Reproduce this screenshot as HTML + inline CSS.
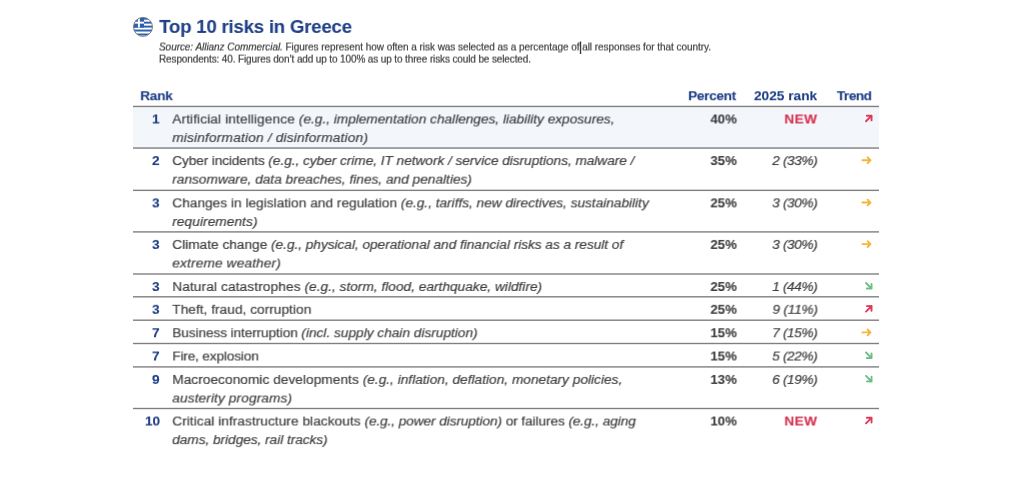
<!DOCTYPE html><html><head><meta charset="utf-8"><title>Top 10 risks in Greece</title><style>
html,body{margin:0;padding:0;background:#fff;overflow:hidden;}
body{width:1024px;height:500px;position:relative;overflow:hidden;font-family:"Liberation Sans",sans-serif;}
.t{position:absolute;white-space:nowrap;line-height:20px;}
</style></head><body>
<svg style="position:absolute;left:0;top:0" width="1024" height="500" viewBox="0 0 1024 500">
<rect x="133" y="106.45" width="746" height="41.60" fill="#f3f7fc"/>
<rect x="133" y="105.75" width="746" height="1.4" fill="#808080"/>
<rect x="133" y="147.35" width="746" height="1.4" fill="#808080"/>
<rect x="133" y="189.65" width="746" height="1.4" fill="#808080"/>
<rect x="133" y="231.20" width="746" height="1.4" fill="#808080"/>
<rect x="133" y="273.30" width="746" height="1.4" fill="#808080"/>
<rect x="133" y="296.10" width="746" height="1.4" fill="#808080"/>
<rect x="133" y="319.50" width="746" height="1.4" fill="#808080"/>
<rect x="133" y="342.80" width="746" height="1.4" fill="#808080"/>
<rect x="133" y="366.20" width="746" height="1.4" fill="#808080"/>
<rect x="133" y="407.80" width="746" height="1.4" fill="#808080"/>
<g transform="translate(868.90 118.35) rotate(-45)" fill="none" stroke="#df3b5a" stroke-width="1.9" stroke-linecap="round" stroke-linejoin="round"><path d="M-4.1 0H3.5M0.4 -3.3L3.8 0L0.4 3.3"/></g>
<g transform="translate(867.00 160.25) rotate(0)" fill="none" stroke="#f3b63a" stroke-width="1.9" stroke-linecap="round" stroke-linejoin="round"><path d="M-4.6 0H3.2M0.6 -2.9L3.5 0L0.6 2.9"/></g>
<g transform="translate(867.00 202.55) rotate(0)" fill="none" stroke="#f3b63a" stroke-width="1.9" stroke-linecap="round" stroke-linejoin="round"><path d="M-4.6 0H3.2M0.6 -2.9L3.5 0L0.6 2.9"/></g>
<g transform="translate(867.00 244.10) rotate(0)" fill="none" stroke="#f3b63a" stroke-width="1.9" stroke-linecap="round" stroke-linejoin="round"><path d="M-4.6 0H3.2M0.6 -2.9L3.5 0L0.6 2.9"/></g>
<g transform="translate(868.90 285.90) rotate(45)" fill="none" stroke="#6dbf86" stroke-width="1.9" stroke-linecap="round" stroke-linejoin="round"><path d="M-4.1 0H3.5M0.4 -3.3L3.8 0L0.4 3.3"/></g>
<g transform="translate(868.90 308.70) rotate(-45)" fill="none" stroke="#df3b5a" stroke-width="1.9" stroke-linecap="round" stroke-linejoin="round"><path d="M-4.1 0H3.5M0.4 -3.3L3.8 0L0.4 3.3"/></g>
<g transform="translate(867.00 332.40) rotate(0)" fill="none" stroke="#f3b63a" stroke-width="1.9" stroke-linecap="round" stroke-linejoin="round"><path d="M-4.6 0H3.2M0.6 -2.9L3.5 0L0.6 2.9"/></g>
<g transform="translate(868.90 355.40) rotate(45)" fill="none" stroke="#6dbf86" stroke-width="1.9" stroke-linecap="round" stroke-linejoin="round"><path d="M-4.1 0H3.5M0.4 -3.3L3.8 0L0.4 3.3"/></g>
<g transform="translate(868.90 378.80) rotate(45)" fill="none" stroke="#6dbf86" stroke-width="1.9" stroke-linecap="round" stroke-linejoin="round"><path d="M-4.1 0H3.5M0.4 -3.3L3.8 0L0.4 3.3"/></g>
<g transform="translate(868.90 420.40) rotate(-45)" fill="none" stroke="#df3b5a" stroke-width="1.9" stroke-linecap="round" stroke-linejoin="round"><path d="M-4.1 0H3.5M0.4 -3.3L3.8 0L0.4 3.3"/></g>
<rect x="579.85" y="41.5" width="1.35" height="12.5" fill="#33363f"/>
<g transform="translate(132.8 16.7)">
<defs><clipPath id="c"><circle cx="10.2" cy="10.2" r="9.5"/></clipPath></defs>
<g clip-path="url(#c)">
<rect width="20.4" height="20.4" fill="#fff"/>
<g fill="#2e5fae">
<rect x="0" y="1.02" width="20.4" height="1.95"/><rect x="0" y="4.97" width="20.4" height="1.95"/><rect x="0" y="8.92" width="20.4" height="1.95"/><rect x="0" y="12.87" width="20.4" height="1.95"/><rect x="0" y="16.82" width="20.4" height="1.95"/>
<rect x="0" y="1.02" width="11.2" height="9.85"/>
</g>
<rect x="5.15" y="1.02" width="1.9" height="9.85" fill="#fff"/><rect x="0" y="4.97" width="11.2" height="1.95" fill="#fff"/>
</g>
<circle cx="10.2" cy="10.2" r="9.5" fill="none" stroke="#70737c" stroke-width="0.9"/>
</g>
</svg>
<div class="t" style="top:16px;font-size:18.6px;font-weight:700;color:#1f3f86;-webkit-text-stroke:0.1px;letter-spacing:-0.203px;left:159px;transform:translate(0.20px,0.90px) rotateX(0.5deg);">Top 10 risks in Greece</div>
<div class="t" style="top:37px;font-size:10px;font-weight:400;color:#3e3e3e;-webkit-text-stroke:0.2px;letter-spacing:-0.053px;left:159px;transform:translate(0.00px,0.50px) rotateX(0.5deg);"><i>Source: Allianz Commercial.</i> Figures represent how often a risk was selected as a percentage of all responses for that country.</div>
<div class="t" style="top:49px;font-size:10px;font-weight:400;color:#3e3e3e;-webkit-text-stroke:0.2px;letter-spacing:-0.125px;left:159px;transform:translate(0.00px,0.60px) rotateX(0.5deg);">Respondents: 40. Figures don’t add up to 100% as up to three risks could be selected.</div>
<div class="t" style="top:86px;font-size:13.7px;font-weight:700;color:#1f3f86;-webkit-text-stroke:0.1px;letter-spacing:-0.261px;left:140px;transform:translate(0.20px,0.20px) rotateX(0.5deg);">Rank</div>
<div class="t" style="top:86px;font-size:13.7px;font-weight:700;color:#1f3f86;-webkit-text-stroke:0.1px;letter-spacing:-0.353px;right:288px;transform:translate(0.15px,0.20px) rotateX(0.5deg);">Percent</div>
<div class="t" style="top:86px;font-size:13.7px;font-weight:700;color:#1f3f86;-webkit-text-stroke:0.1px;letter-spacing:-0.009px;right:208px;transform:translate(0.99px,0.20px) rotateX(0.5deg);">2025 rank</div>
<div class="t" style="top:86px;font-size:13.7px;font-weight:700;color:#1f3f86;-webkit-text-stroke:0.1px;letter-spacing:-0.520px;right:153px;transform:translate(0.78px,0.20px) rotateX(0.5deg);">Trend</div>
<div class="t" style="top:109px;font-size:13.7px;font-weight:700;color:#1f3f86;-webkit-text-stroke:0.1px;right:864px;transform:translate(0.00px,0.45px) rotateX(0.5deg);">1</div>
<div class="t" style="top:109px;font-size:13.7px;font-weight:400;color:#404040;-webkit-text-stroke:0.2px;left:172px;transform:translate(0.30px,0.45px) rotateX(0.5deg);"><span style="letter-spacing:0.108px">Artificial intelligence </span><span style="letter-spacing:-0.017px"><i>(e.g., implementation challenges, liability exposures,</i></span></div>
<div class="t" style="top:128px;font-size:13.7px;font-weight:400;color:#404040;-webkit-text-stroke:0.2px;letter-spacing:0.178px;left:172px;transform:translate(0.30px,0.05px) rotateX(0.5deg);"><i>misinformation / disinformation)</i></div>
<div class="t" style="top:109px;font-size:13.2px;font-weight:700;color:#3c3c3c;-webkit-text-stroke:0.1px;right:288px;transform:translate(0.40px,0.45px) rotateX(0.5deg);">40%</div>
<div class="t" style="top:109px;font-size:13.7px;font-weight:700;color:#d6314f;-webkit-text-stroke:0.1px;letter-spacing:0.331px;right:207px;transform:translate(0.33px,0.45px) rotateX(0.5deg);">NEW</div>
<div class="t" style="top:151px;font-size:13.7px;font-weight:700;color:#1f3f86;-webkit-text-stroke:0.1px;right:864px;transform:translate(0.00px,0.05px) rotateX(0.5deg);">2</div>
<div class="t" style="top:151px;font-size:13.7px;font-weight:400;color:#404040;-webkit-text-stroke:0.2px;left:172px;transform:translate(0.30px,0.05px) rotateX(0.5deg);"><span style="letter-spacing:-0.128px">Cyber incidents </span><span style="letter-spacing:-0.046px"><i>(e.g., cyber crime, IT network / service disruptions, malware /</i></span></div>
<div class="t" style="top:169px;font-size:13.7px;font-weight:400;color:#404040;-webkit-text-stroke:0.2px;letter-spacing:-0.002px;left:172px;transform:translate(0.30px,0.65px) rotateX(0.5deg);"><i>ransomware, data breaches, fines, and penalties)</i></div>
<div class="t" style="top:151px;font-size:13.2px;font-weight:700;color:#3c3c3c;-webkit-text-stroke:0.1px;right:288px;transform:translate(0.40px,0.05px) rotateX(0.5deg);">35%</div>
<div class="t" style="top:151px;font-size:13.7px;font-weight:400;color:#404040;-webkit-text-stroke:0.2px;letter-spacing:-0.390px;right:207px;transform:translate(0.21px,0.05px) rotateX(0.5deg);"><i>2 (33%)</i></div>
<div class="t" style="top:193px;font-size:13.7px;font-weight:700;color:#1f3f86;-webkit-text-stroke:0.1px;right:864px;transform:translate(0.00px,0.35px) rotateX(0.5deg);">3</div>
<div class="t" style="top:193px;font-size:13.7px;font-weight:400;color:#404040;-webkit-text-stroke:0.2px;left:172px;transform:translate(0.30px,0.35px) rotateX(0.5deg);"><span style="letter-spacing:0.008px">Changes in legislation and regulation </span><span style="letter-spacing:-0.019px"><i>(e.g., tariffs, new directives, sustainability</i></span></div>
<div class="t" style="top:211px;font-size:13.7px;font-weight:400;color:#404040;-webkit-text-stroke:0.2px;letter-spacing:0.064px;left:172px;transform:translate(0.30px,0.95px) rotateX(0.5deg);"><i>requirements)</i></div>
<div class="t" style="top:193px;font-size:13.2px;font-weight:700;color:#3c3c3c;-webkit-text-stroke:0.1px;right:288px;transform:translate(0.40px,0.35px) rotateX(0.5deg);">25%</div>
<div class="t" style="top:193px;font-size:13.7px;font-weight:400;color:#404040;-webkit-text-stroke:0.2px;letter-spacing:-0.390px;right:207px;transform:translate(0.21px,0.35px) rotateX(0.5deg);"><i>3 (30%)</i></div>
<div class="t" style="top:234px;font-size:13.7px;font-weight:700;color:#1f3f86;-webkit-text-stroke:0.1px;right:864px;transform:translate(0.00px,0.90px) rotateX(0.5deg);">3</div>
<div class="t" style="top:234px;font-size:13.7px;font-weight:400;color:#404040;-webkit-text-stroke:0.2px;left:172px;transform:translate(0.30px,0.90px) rotateX(0.5deg);"><span style="letter-spacing:-0.008px">Climate change </span><span style="letter-spacing:-0.038px"><i>(e.g., physical, operational and financial risks as a result of</i></span></div>
<div class="t" style="top:253px;font-size:13.7px;font-weight:400;color:#404040;-webkit-text-stroke:0.2px;letter-spacing:0.140px;left:172px;transform:translate(0.30px,0.50px) rotateX(0.5deg);"><i>extreme weather)</i></div>
<div class="t" style="top:234px;font-size:13.2px;font-weight:700;color:#3c3c3c;-webkit-text-stroke:0.1px;right:288px;transform:translate(0.40px,0.90px) rotateX(0.5deg);">25%</div>
<div class="t" style="top:234px;font-size:13.7px;font-weight:400;color:#404040;-webkit-text-stroke:0.2px;letter-spacing:-0.390px;right:207px;transform:translate(0.21px,0.90px) rotateX(0.5deg);"><i>3 (30%)</i></div>
<div class="t" style="top:277px;font-size:13.7px;font-weight:700;color:#1f3f86;-webkit-text-stroke:0.1px;right:864px;transform:translate(0.00px,0.00px) rotateX(0.5deg);">3</div>
<div class="t" style="top:277px;font-size:13.7px;font-weight:400;color:#404040;-webkit-text-stroke:0.2px;left:172px;transform:translate(0.30px,0.00px) rotateX(0.5deg);"><span style="letter-spacing:0.104px">Natural catastrophes </span><span style="letter-spacing:0.006px"><i>(e.g., storm, flood, earthquake, wildfire)</i></span></div>
<div class="t" style="top:277px;font-size:13.2px;font-weight:700;color:#3c3c3c;-webkit-text-stroke:0.1px;right:288px;transform:translate(0.40px,0.00px) rotateX(0.5deg);">25%</div>
<div class="t" style="top:277px;font-size:13.7px;font-weight:400;color:#404040;-webkit-text-stroke:0.2px;letter-spacing:-0.390px;right:207px;transform:translate(0.21px,0.00px) rotateX(0.5deg);"><i>1 (44%)</i></div>
<div class="t" style="top:299px;font-size:13.7px;font-weight:700;color:#1f3f86;-webkit-text-stroke:0.1px;right:864px;transform:translate(0.00px,0.80px) rotateX(0.5deg);">3</div>
<div class="t" style="top:299px;font-size:13.7px;font-weight:400;color:#404040;-webkit-text-stroke:0.2px;letter-spacing:0.023px;left:172px;transform:translate(0.30px,0.80px) rotateX(0.5deg);">Theft, fraud, corruption</div>
<div class="t" style="top:299px;font-size:13.2px;font-weight:700;color:#3c3c3c;-webkit-text-stroke:0.1px;right:288px;transform:translate(0.40px,0.80px) rotateX(0.5deg);">25%</div>
<div class="t" style="top:299px;font-size:13.7px;font-weight:400;color:#404040;-webkit-text-stroke:0.2px;letter-spacing:-0.220px;right:207px;transform:translate(0.38px,0.80px) rotateX(0.5deg);"><i>9 (11%)</i></div>
<div class="t" style="top:323px;font-size:13.7px;font-weight:700;color:#1f3f86;-webkit-text-stroke:0.1px;right:864px;transform:translate(0.00px,0.20px) rotateX(0.5deg);">7</div>
<div class="t" style="top:323px;font-size:13.7px;font-weight:400;color:#404040;-webkit-text-stroke:0.2px;left:172px;transform:translate(0.30px,0.20px) rotateX(0.5deg);"><span style="letter-spacing:-0.115px">Business interruption </span><span style="letter-spacing:-0.007px"><i>(incl. supply chain disruption)</i></span></div>
<div class="t" style="top:323px;font-size:13.2px;font-weight:700;color:#3c3c3c;-webkit-text-stroke:0.1px;right:288px;transform:translate(0.40px,0.20px) rotateX(0.5deg);">15%</div>
<div class="t" style="top:323px;font-size:13.7px;font-weight:400;color:#404040;-webkit-text-stroke:0.2px;letter-spacing:-0.390px;right:207px;transform:translate(0.21px,0.20px) rotateX(0.5deg);"><i>7 (15%)</i></div>
<div class="t" style="top:346px;font-size:13.7px;font-weight:700;color:#1f3f86;-webkit-text-stroke:0.1px;right:864px;transform:translate(0.00px,0.50px) rotateX(0.5deg);">7</div>
<div class="t" style="top:346px;font-size:13.7px;font-weight:400;color:#404040;-webkit-text-stroke:0.2px;letter-spacing:-0.180px;left:172px;transform:translate(0.30px,0.50px) rotateX(0.5deg);">Fire, explosion</div>
<div class="t" style="top:346px;font-size:13.2px;font-weight:700;color:#3c3c3c;-webkit-text-stroke:0.1px;right:288px;transform:translate(0.40px,0.50px) rotateX(0.5deg);">15%</div>
<div class="t" style="top:346px;font-size:13.7px;font-weight:400;color:#404040;-webkit-text-stroke:0.2px;letter-spacing:-0.390px;right:207px;transform:translate(0.21px,0.50px) rotateX(0.5deg);"><i>5 (22%)</i></div>
<div class="t" style="top:369px;font-size:13.7px;font-weight:700;color:#1f3f86;-webkit-text-stroke:0.1px;right:864px;transform:translate(0.00px,0.90px) rotateX(0.5deg);">9</div>
<div class="t" style="top:369px;font-size:13.7px;font-weight:400;color:#404040;-webkit-text-stroke:0.2px;left:172px;transform:translate(0.30px,0.90px) rotateX(0.5deg);"><span style="letter-spacing:0.036px">Macroeconomic developments </span><span style="letter-spacing:0.003px"><i>(e.g., inflation, deflation, monetary policies,</i></span></div>
<div class="t" style="top:388px;font-size:13.7px;font-weight:400;color:#404040;-webkit-text-stroke:0.2px;letter-spacing:0.105px;left:172px;transform:translate(0.30px,0.50px) rotateX(0.5deg);"><i>austerity programs)</i></div>
<div class="t" style="top:369px;font-size:13.2px;font-weight:700;color:#3c3c3c;-webkit-text-stroke:0.1px;right:288px;transform:translate(0.40px,0.90px) rotateX(0.5deg);">13%</div>
<div class="t" style="top:369px;font-size:13.7px;font-weight:400;color:#404040;-webkit-text-stroke:0.2px;letter-spacing:-0.390px;right:207px;transform:translate(0.21px,0.90px) rotateX(0.5deg);"><i>6 (19%)</i></div>
<div class="t" style="top:411px;font-size:13.7px;font-weight:700;color:#1f3f86;-webkit-text-stroke:0.1px;right:864px;transform:translate(0.00px,0.50px) rotateX(0.5deg);">10</div>
<div class="t" style="top:411px;font-size:13.7px;font-weight:400;color:#404040;-webkit-text-stroke:0.2px;left:172px;transform:translate(0.30px,0.50px) rotateX(0.5deg);"><span style="letter-spacing:0.037px">Critical infrastructure blackouts </span><span style="letter-spacing:-0.101px"><i>(e.g., power disruption)</i> or failures <i>(e.g., aging</i></span></div>
<div class="t" style="top:430px;font-size:13.7px;font-weight:400;color:#404040;-webkit-text-stroke:0.2px;letter-spacing:-0.050px;left:172px;transform:translate(0.30px,0.10px) rotateX(0.5deg);"><i>dams, bridges, rail tracks)</i></div>
<div class="t" style="top:411px;font-size:13.2px;font-weight:700;color:#3c3c3c;-webkit-text-stroke:0.1px;right:288px;transform:translate(0.40px,0.50px) rotateX(0.5deg);">10%</div>
<div class="t" style="top:411px;font-size:13.7px;font-weight:700;color:#d6314f;-webkit-text-stroke:0.1px;letter-spacing:0.331px;right:207px;transform:translate(0.33px,0.50px) rotateX(0.5deg);">NEW</div>
</body></html>
